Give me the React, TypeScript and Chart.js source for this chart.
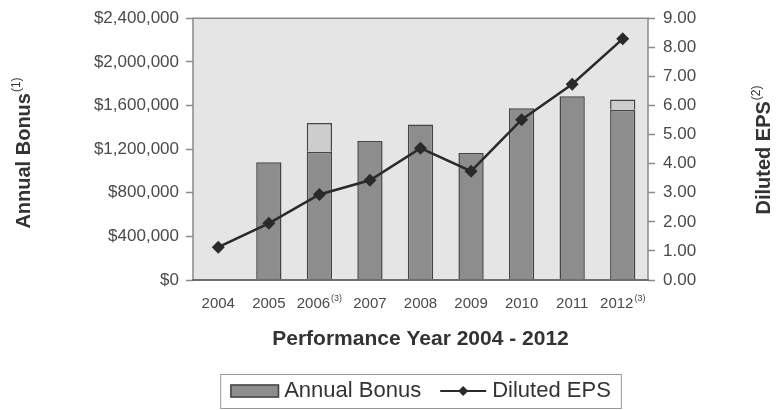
import React, { useEffect, useRef } from "react";
import { Chart, registerables } from "chart.js";

Chart.register(...registerables);

const years = ["2004", "2005", "2006", "2007", "2008", "2009", "2010", "2011", "2012"];
const yearNotes = ["", "", "(3)", "", "", "", "", "", "(3)"];
const bonusBase = [null, 1080000, 1175000, 1275000, 1425000, 1165000, 1575000, 1685000, 1560000];
const bonusExtra = [null, null, 265000, null, null, null, null, null, 95000];
const dilutedEps = [1.13, 1.95, 2.94, 3.43, 4.53, 3.74, 5.51, 6.73, 8.29];
const bonusTicksMax = 2400000;
const epsTicksMax = 9;

const leftTitle = "Annual Bonus";
const leftNote = "(1)";
const rightTitle = "Diluted EPS";
const rightNote = "(2)";
const xTitle = "Performance Year 2004 - 2012";
const legendBar = "Annual Bonus";
const legendLine = "Diluted EPS";

const FONT = '"Liberation Sans", Arial, sans-serif';
const DARK = "#8d8d8d";
const LIGHT = "#cdcdcd";
const EDGE = "#444444";
const LINE = "#2a2a2a";
const TEXT = "#4a4a4a";
const TITLE = "#333333";

function drawSupText(ctx: CanvasRenderingContext2D, main: string, sup: string, size: number, supSize: number, bold: boolean, supBold: boolean, cx: number, cy: number) {
  const w = bold ? "bold " : "";
  const ws = supBold ? "bold " : "";
  ctx.font = `${w}${size}px ${FONT}`;
  const w1 = ctx.measureText(main).width;
  ctx.font = `${ws}${supSize}px ${FONT}`;
  const w2 = sup ? ctx.measureText(sup).width + 1 : 0;
  const start = cx - (w1 + w2) / 2;
  ctx.textBaseline = "middle";
  ctx.textAlign = "left";
  ctx.font = `${w}${size}px ${FONT}`;
  ctx.fillText(main, start, cy);
  if (sup) {
    ctx.font = `${ws}${supSize}px ${FONT}`;
    ctx.fillText(sup, start + w1 + 1, cy - size * 0.38);
  }
}

const decorPlugin = {
  id: "decor",
  beforeDraw(chart: any) {
    const { ctx, chartArea: a } = chart;
    ctx.save();
    ctx.fillStyle = "#ffffff";
    ctx.fillRect(0, 0, chart.width, chart.height);
    ctx.fillStyle = "#e5e5e5";
    ctx.fillRect(a.left, a.top, a.right - a.left, a.bottom - a.top);
    ctx.restore();
  },
  afterDatasetsDraw(chart: any) {
    const { ctx, chartArea: a } = chart;
    ctx.save();
    ctx.strokeStyle = "#8a8a8a";
    ctx.lineWidth = 1.5;
    ctx.beginPath();
    ctx.moveTo(a.left, a.bottom);
    ctx.lineTo(a.left, a.top);
    ctx.lineTo(a.right, a.top);
    ctx.lineTo(a.right, a.bottom);
    ctx.stroke();
    ctx.strokeStyle = "#6e6e6e";
    ctx.lineWidth = 2;
    ctx.beginPath();
    ctx.moveTo(a.left - 1, a.bottom);
    ctx.lineTo(a.right + 1, a.bottom);
    ctx.stroke();
    ctx.restore();
  },
  afterDraw(chart: any) {
    const { ctx, chartArea: a } = chart;
    const xs = chart.scales.x;
    ctx.save();
    ctx.fillStyle = TEXT;
    years.forEach((y, i) => {
      const px = xs.getPixelForValue(i);
      drawSupText(ctx, y, yearNotes[i], 15, 9, false, false, px, a.bottom + 24);
    });
    ctx.fillStyle = TITLE;
    drawSupText(ctx, xTitle, "", 21, 12, true, false, (a.left + a.right) / 2, a.bottom + 59);
    ctx.save();
    ctx.translate(24, 153);
    ctx.rotate(-Math.PI / 2);
    drawSupText(ctx, leftTitle, leftNote, 20, 12, true, false, 0, 0);
    ctx.restore();
    ctx.save();
    ctx.translate(764, 150);
    ctx.rotate(-Math.PI / 2);
    drawSupText(ctx, rightTitle, rightNote, 20, 12, true, false, 0, 0);
    ctx.restore();

    ctx.font = `22px ${FONT}`;
    const t1 = ctx.measureText(legendBar).width;
    const t2 = ctx.measureText(legendLine).width;
    const sw1 = 49, g1 = 5, gap = 19, sw2 = 46, g2 = 6, pad = 10;
    const inner = sw1 + g1 + t1 + gap + sw2 + g2 + t2;
    const total = inner + pad * 2;
    const cx = (a.left + a.right) / 2;
    const bx = cx - total / 2;
    const by = 374, bh = 34, cy = by + bh / 2;
    ctx.fillStyle = "#ffffff";
    ctx.fillRect(bx, by, total, bh);
    ctx.strokeStyle = "#9a9a9a";
    ctx.lineWidth = 1;
    ctx.strokeRect(bx + 0.5, by + 0.5, total, bh);
    let x = bx + pad;
    ctx.fillStyle = DARK;
    ctx.fillRect(x, cy - 6.5, sw1, 13);
    ctx.strokeStyle = EDGE;
    ctx.lineWidth = 1.5;
    ctx.strokeRect(x + 0.75, cy - 6, sw1 - 1.5, 12);
    x += sw1 + g1;
    ctx.fillStyle = TITLE;
    ctx.textBaseline = "middle";
    ctx.textAlign = "left";
    ctx.fillText(legendBar, x, cy);
    x += t1 + gap;
    ctx.strokeStyle = LINE;
    ctx.lineWidth = 2;
    ctx.beginPath();
    ctx.moveTo(x, cy);
    ctx.lineTo(x + sw2, cy);
    ctx.stroke();
    const dx = x + sw2 / 2;
    ctx.fillStyle = LINE;
    ctx.beginPath();
    ctx.moveTo(dx, cy - 5);
    ctx.lineTo(dx + 5, cy);
    ctx.lineTo(dx, cy + 5);
    ctx.lineTo(dx - 5, cy);
    ctx.closePath();
    ctx.fill();
    x += sw2 + g2;
    ctx.fillStyle = TITLE;
    ctx.fillText(legendLine, x, cy);
    ctx.restore();
  },
};

export default function App() {
  const ref = useRef<HTMLCanvasElement | null>(null);
  useEffect(() => {
    if (!ref.current) return;
    const chart = new Chart(ref.current, {
      type: "bar",
      data: {
        labels: years,
        datasets: [
          {
            type: "line",
            label: legendLine,
            data: dilutedEps,
            yAxisID: "y1",
            borderColor: LINE,
            backgroundColor: LINE,
            borderWidth: 2.5,
            pointStyle: "rectRot",
            pointRadius: 6.5,
            pointBorderWidth: 0,
            pointBackgroundColor: LINE,
            order: 0,
          } as any,
          {
            type: "bar",
            label: legendBar,
            data: bonusBase,
            yAxisID: "y",
            backgroundColor: DARK,
            borderColor: EDGE,
            borderWidth: 1.5,
            stack: "b",
            order: 1,
          },
          {
            type: "bar",
            label: "Annual Bonus extra",
            data: bonusExtra,
            yAxisID: "y",
            backgroundColor: LIGHT,
            borderColor: EDGE,
            borderWidth: 1.5,
            stack: "b",
            order: 2,
          },
        ],
      },
      options: {
        animation: false,
        responsive: true,
        maintainAspectRatio: false,
        layout: { padding: { top: 15, left: 0, right: 0, bottom: 0 } },
        datasets: { bar: { barPercentage: 0.5, categoryPercentage: 1 } },
        plugins: { legend: { display: false }, tooltip: { enabled: false } },
        scales: {
          x: {
            stacked: true,
            offset: true,
            grid: { display: false, drawTicks: false },
            border: { display: false },
            ticks: { display: false },
            afterFit: (s: any) => { s.height = 130; },
          },
          y: {
            position: "left",
            stacked: true,
            min: 0,
            max: bonusTicksMax,
            grid: { drawOnChartArea: false, drawTicks: true, tickLength: 7, color: "#8a8a8a", tickWidth: 1.5 },
            border: { display: false },
            ticks: {
              stepSize: 400000,
              padding: 7,
              color: TEXT,
              font: { family: FONT, size: 17 },
              callback: (v: any) => "$" + Number(v).toLocaleString("en-US"),
            },
            afterFit: (s: any) => { s.width = 193; },
          },
          y1: {
            position: "right",
            min: 0,
            max: epsTicksMax,
            grid: { drawOnChartArea: false, drawTicks: true, tickLength: 7, color: "#8a8a8a", tickWidth: 1.5 },
            border: { display: false },
            ticks: {
              stepSize: 1,
              padding: 8,
              color: TEXT,
              font: { family: FONT, size: 17 },
              callback: (v: any) => Number(v).toFixed(2),
            },
            afterFit: (s: any) => { s.width = 129; },
          },
        },
      },
      plugins: [decorPlugin],
    });
    return () => chart.destroy();
  }, []);
  return (
    <div style={{ position: "absolute", left: 0, top: 0, width: 777, height: 410 }}>
      <canvas ref={ref} />
    </div>
  );
}
